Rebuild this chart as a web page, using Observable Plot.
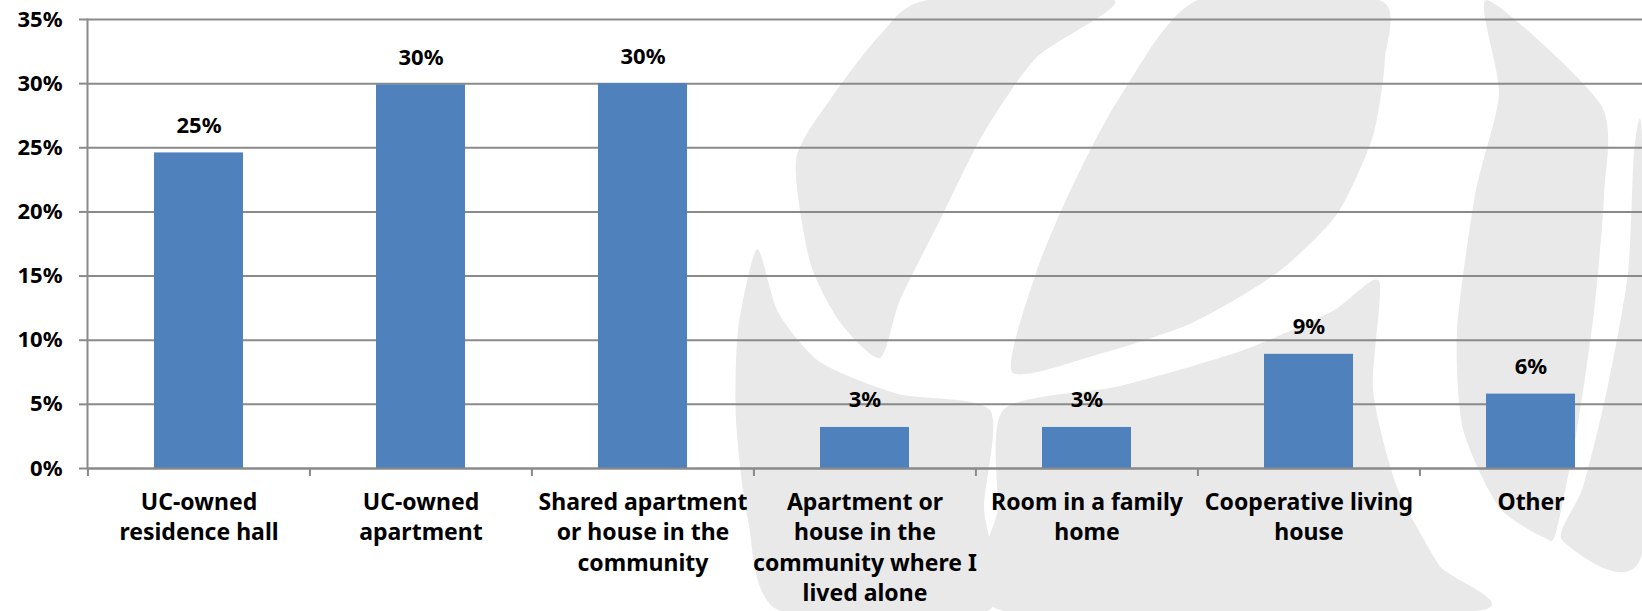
<!DOCTYPE html>
<html>
<head>
<meta charset="utf-8">
<script src="https://cdn.jsdelivr.net/npm/d3@7"></script>
<script src="https://cdn.jsdelivr.net/npm/@observablehq/plot@0.6"></script>
<style>
  html, body { margin: 0; padding: 0; background: #fff; overflow: hidden; }
  #wrap { position: relative; width: 1642px; height: 611px; }
  #wrap > svg { position: absolute; left: 0; top: 0; }
  #chart svg { font-family: "Open Sans", Lato, sans-serif; font-weight: bold; }
</style>
</head>
<body>
<div id="wrap"><div id="chart"></div></div>
<script>
const categories = [
  "UC-owned residence hall",
  "UC-owned apartment",
  "Shared apartment or house in the community",
  "Apartment or house in the community where I lived alone",
  "Room in a family home",
  "Cooperative living house",
  "Other"
];
const tickLabels = [
  "UC-owned\nresidence hall",
  "UC-owned\napartment",
  "Shared apartment\nor house in the\ncommunity",
  "Apartment or\nhouse in the\ncommunity where I\nlived alone",
  "Room in a family\nhome",
  "Cooperative living\nhouse",
  "Other"
];
const values = [24.6, 29.9, 30.0, 3.2, 3.2, 8.9, 5.8];
const valueLabels = ["25%", "30%", "30%", "3%", "3%", "9%", "6%"];
const yTicks = [0, 5, 10, 15, 20, 25, 30, 35];

const data = categories.map((c, i) => ({category: c, value: values[i], label: valueLabels[i]}));

const W = 1642, H = 611, ML = 87, MR = 0, MT = 19, MB = 143;
const step = (W - ML - MR) / categories.length;

// decorative light-gray watermark behind the chart (not data)
const watermark = [
  [[928,0],[1114,0],[1036,58],[982,136],[940,220],[900,300],[880,358],[840,322],[810,262],[796,160],[832,97],[880,35]],
  [[1198,0],[1379,0],[1385,58],[1373,136],[1337,214],[1277,273],[1192,323],[1096,355],[1012,372],[1036,273],[1072,187],[1120,97]],
  [[757,249],[778,312],[820,362],[898,394],[990,410],[984,507],[988,611],[780,611],[748,520],[736,420],[738,330]],
  [[1004,409],[1120,386],[1241,351],[1331,312],[1379,281],[1373,390],[1397,487],[1439,565],[1475,611],[1004,611],[998,507]],
  [[1487,0],[1499,94],[1475,195],[1457,331],[1463,429],[1499,507],[1545,538],[1556,532],[1577,429],[1594,312],[1604,195],[1601,105]],
  [[1634,152],[1642,140],[1642,553],[1562,540],[1583,487],[1607,390],[1628,273]]
];
const bg = d3.select("#wrap").insert("svg", "#chart")
  .attr("width", W).attr("height", H);
const line = d3.line().curve(d3.curveCardinalClosed.tension(0.3));
bg.selectAll("path").data(watermark).join("path")
  .attr("d", line).attr("fill", "#e9e9e9");

const chart = Plot.plot({
  width: W,
  height: H,
  marginLeft: ML,
  marginRight: MR,
  marginTop: MT,
  marginBottom: MB,
  style: {fontSize: "22px", color: "#000", background: "transparent", position: "absolute", left: "0px", top: "0px"},
  x: {domain: categories, paddingInner: 0.6, paddingOuter: 0.3, label: null},
  y: {domain: [0, 35], label: null},
  marks: [
    Plot.gridY(yTicks, {stroke: "#8a8a8a", strokeOpacity: 1, strokeWidth: 2}),
    Plot.barY(data, {x: "category", y: "value", fill: "#4f81bd"}),
    Plot.text(data, {x: "category", y: "value", text: "label", dy: -27, fontSize: 22, fontWeight: "bold", fill: "#000"}),
    Plot.ruleY([0], {stroke: "#8a8a8a", strokeWidth: 2}),
    Plot.frame({anchor: "left", stroke: "#8a8a8a", strokeWidth: 2}),
    Plot.ruleX(categories, {x: d => d, dx: -step / 2, y1: 0, y2: 0, insetBottom: -8, stroke: "#8a8a8a", strokeWidth: 2}),
    Plot.axisY(yTicks, {tickFormat: d => d + "%", tickSize: 8, tickPadding: 17, stroke: "#8a8a8a", strokeWidth: 2, fontSize: 22, fontWeight: "bold", fill: "#000", label: null}),
    Plot.axisX({tickSize: 0, tickPadding: 20, tickFormat: d => tickLabels[categories.indexOf(d)], lineHeight: 1.32, fontSize: 23, fontWeight: "bold", fill: "#000", label: null})
  ]
});
document.getElementById("wrap").appendChild(chart);
</script>
</body>
</html>
